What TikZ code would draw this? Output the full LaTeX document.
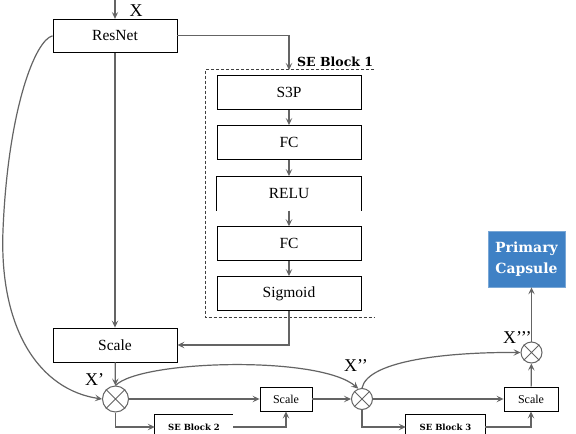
\documentclass[tikz,border=0pt]{standalone}
\usepackage{fontspec}
\newfontfamily\bfont{DejaVu Serif}
\newfontfamily\xfont{Liberation Serif}
\usetikzlibrary{arrows.meta,calc}
\definecolor{lncol}{RGB}{100,100,100}
\definecolor{capblue}{RGB}{63,129,197}
\begin{document}
\begin{tikzpicture}[x=1pt,y=-1pt,
  box/.style={draw=black,line width=0.9pt,minimum width=124pt,minimum height=33pt,inner sep=0pt,font=\xfont\fontsize{15.5}{17}\selectfont},
  sebox/.style={box,minimum width=144pt,minimum height=33.6pt},
  sbox/.style={draw=black,line width=0.9pt,minimum height=24pt,inner sep=0pt,font=\xfont\fontsize{12}{13}\selectfont},
  mul/.style={circle,draw=lncol,line width=1pt,minimum size=21pt,inner sep=0pt},
  arr/.style={draw=lncol,line width=1.2pt,-{Stealth[length=7pt,width=6.5pt,inset=3pt]}},
  xl/.style={font=\xfont\fontsize{18}{20}\selectfont,anchor=base west,inner sep=0pt},
  blk/.style={minimum height=24pt,inner sep=0pt,font=\bfont\bfseries\fontsize{8.5}{10}\selectfont},
]
\useasboundingbox (0,0) rectangle (576,434);
\clip (0,0) rectangle (576,434);
\fill[white] (0,0) rectangle (576,434);

% main boxes
\node[box] (res) at (115,35.8) {ResNet};
\node[box,minimum height=34pt] (sc1) at (115,345) {Scale};
\node[sebox] (s3p) at (289,92.5) {S3P};
\node[sebox] (fc1) at (289,142.3) {FC};
\node[sebox,draw=none] (relu) at (289,193.3) {RELU};
\draw[line width=0.9pt] (relu.south west) -- (relu.north west) -- (relu.north east) -- (relu.south east);
\node[sebox] (fc2) at (289,243.5) {FC};
\node[sebox] (sig) at (289,293.3) {Sigmoid};

% SE block 1 frame
\draw[black!75,line width=0.6pt,dash pattern=on 3pt off 2pt] (374,69.5) -- (205,69.5) -- (205,317) -- (374,317);
\node[anchor=base west,inner sep=0pt,font=\bfont\bfseries\fontsize{12.5}{14}\selectfont] (se1lab) at (297,66.5) {SE Block 1};

% primary capsule
\node[fill=capblue,draw=capblue!70!white,line width=0.8pt,minimum width=77pt,minimum height=56pt,text=white,
      font=\bfont\bfseries\fontsize{14}{21}\selectfont,align=center,inner sep=0pt] (cap) at (526.5,259) {Primary\\Capsule};

% small scale boxes
\node[sbox,minimum width=52pt] (sc2) at (286,399) {Scale};
\node[sbox,minimum width=54pt] (sc3) at (531,399) {Scale};

% multipliers
\node[mul,minimum size=26pt] (c1) at (115.5,399) {};
\node[mul] (c2) at (362,399) {};
\node[mul] (c3) at (531.5,352.5) {};
\foreach \c in {c1,c2,c3}
  \draw[lncol,line width=1pt] (\c.north west) -- (\c.south east) (\c.north east) -- (\c.south west);

% SE blocks 2 and 3 (partly outside)
\node[blk,minimum width=78pt] (se2) at (194,427) {SE Block 2};
\draw[line width=0.9pt] (se2.south west) -- (se2.north west) -- (se2.north east);
\node[blk,minimum width=79pt] (se3) at (445.5,427) {SE Block 3};
\draw[line width=0.9pt] (se3.south west) -- (se3.north west) -- (se3.north east) -- (se3.south east);

% connectors
\coordinate (xin) at (115,-1);
\draw[arr] (xin) -- (res.north);
\node[xl] (xlab) at (129.5,16.7) {X};
\coordinate (se1in) at (289,70);
\draw[arr] (res.east) -| (se1in);
\draw[arr] (s3p) -- (fc1);
\draw[arr] (fc1) -- (relu);
\draw[arr] (relu) -- (fc2);
\draw[arr] (fc2) -- (sig);
\draw[arr] (sig.south) |- (sc1.east);
\draw[arr] (res) -- (sc1);
\draw[arr] (sc1) -- (c1);
\draw[arr] (res.west) .. controls (35,40) and (8,110) .. (3,230) .. controls (-1,330) and (40,390) .. (c1.west);
\draw[arr] (c1) -- (sc2);
\draw[arr] (sc2) -- (c2);
\draw[arr] (c2) -- (sc3);
\draw[arr] (c1.south) |- (se2.west);
\draw[arr] (se2.east) -| (sc2.south);
\draw[arr] (c2.south) |- (se3.west);
\draw[arr] (se3.east) -| (sc3.south);
\draw[arr] (sc3) -- (c3);
\draw[arr] (c3.north) -- (c3.north |- cap.south);
\draw[arr] (c1.north) .. controls (140,360) and (320,355) .. (c2.110);
\draw[arr] (c2.north) .. controls (368,360) and (450,352) .. (c3.west);

% labels
\node[xl] (x1) at (85,385) {X’};
\node[xl] (x2) at (344,371) {X’’};
\node[xl] (x3) at (503,343) {X’’’};
\end{tikzpicture}
\end{document}
